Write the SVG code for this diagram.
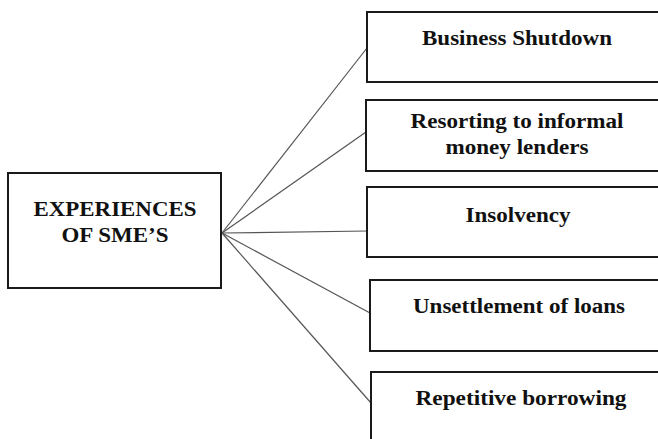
<svg xmlns="http://www.w3.org/2000/svg" width="658" height="439" viewBox="0 0 658 439">
<style>
.box{fill:#fff;stroke:#1a1a1a;stroke-width:2}
.lbl{font-family:"Liberation Serif","Times New Roman",serif;font-weight:bold;font-size:20px;fill:#111;text-anchor:middle}
.con{stroke:#555;stroke-width:1.2;fill:none}
</style>
<rect x="0" y="0" width="658" height="439" fill="#fff"/>
<g id="connectors">
<line class="con" x1="222" y1="233" x2="367" y2="48"/>
<line class="con" x1="222" y1="233" x2="366" y2="132"/>
<line class="con" x1="222" y1="233" x2="367" y2="231"/>
<line class="con" x1="222" y1="233" x2="370" y2="313"/>
<line class="con" x1="222" y1="233" x2="371" y2="403"/>
</g>
<g id="experiences">
<rect class="box" x="8" y="173" width="213" height="115"/>
<text class="lbl" x="115" y="216" textLength="163" lengthAdjust="spacingAndGlyphs">EXPERIENCES</text>
<text class="lbl" x="115" y="242" textLength="107" lengthAdjust="spacingAndGlyphs">OF SME’S</text>
</g>
<g id="shutdown">
<rect class="box" x="367" y="12" width="300" height="70"/>
<text class="lbl" x="517" y="45" textLength="190" lengthAdjust="spacingAndGlyphs">Business Shutdown</text>
</g>
<g id="informal">
<rect class="box" x="366" y="100" width="300" height="71"/>
<text class="lbl" x="517" y="128" textLength="213" lengthAdjust="spacingAndGlyphs">Resorting to informal</text>
<text class="lbl" x="517" y="154" textLength="143" lengthAdjust="spacingAndGlyphs">money lenders</text>
</g>
<g id="insolvency">
<rect class="box" x="367" y="187" width="300" height="70"/>
<text class="lbl" x="518" y="222" textLength="105" lengthAdjust="spacingAndGlyphs">Insolvency</text>
</g>
<g id="unsettlement">
<rect class="box" x="370" y="280" width="300" height="71"/>
<text class="lbl" x="519" y="313" textLength="212" lengthAdjust="spacingAndGlyphs">Unsettlement of loans</text>
</g>
<g id="repetitive">
<rect class="box" x="371" y="372" width="300" height="80"/>
<text class="lbl" x="521" y="405" textLength="211" lengthAdjust="spacingAndGlyphs">Repetitive borrowing</text>
</g>
</svg>
